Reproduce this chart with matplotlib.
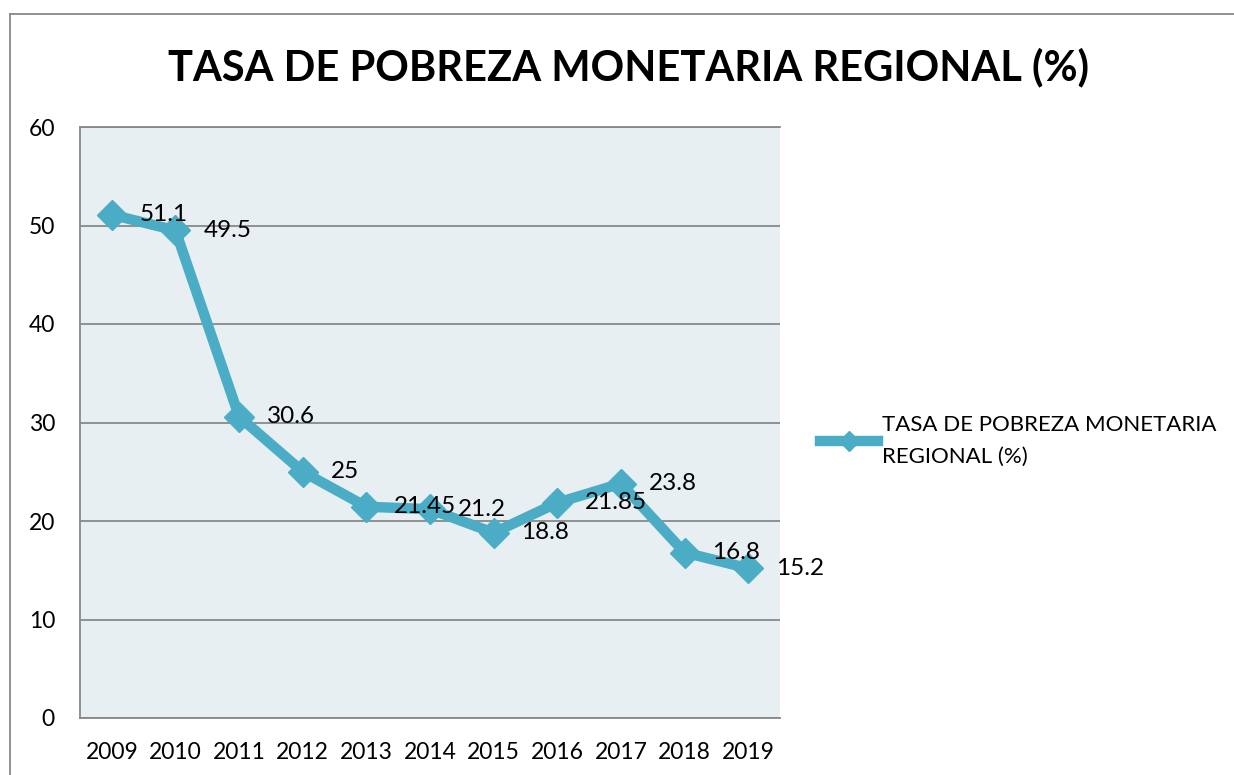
import matplotlib
matplotlib.use("Agg")
import matplotlib.pyplot as plt
from matplotlib.lines import Line2D

years = ["2009", "2010", "2011", "2012", "2013", "2014", "2015", "2016", "2017", "2018", "2019"]
pobreza = [51.1, 49.5, 30.6, 25, 21.45, 21.2, 18.8, 21.85, 23.8, 16.8, 15.2]
etiquetas = ["51.1", "49.5", "30.6", "25", "21.45", "21.2", "18.8", "21.85", "23.8", "16.8", "15.2"]
serie = "TASA DE POBREZA MONETARIA REGIONAL (%)"

plt.rcParams["font.family"] = ["Lato", "DejaVu Sans"]
color = "#4BACC6"

W, H = 1234, 775
fig = plt.figure(figsize=(W / 100, H / 100), dpi=100)
ax = fig.add_axes([80 / W, 1 - 718 / H, 700 / W, 591 / H])
ax.set_facecolor("#E8EFF3")

x = list(range(len(years)))
ax.plot(x, pobreza, color=color, lw=7.5, marker="D", ms=15, solid_joinstyle="miter",
        label=serie, zorder=3)
for xi, yi, t in zip(x, pobreza, etiquetas):
    ax.annotate(t, (xi, yi), xytext=(20, 0), textcoords="offset points",
                ha="left", va="center", fontsize=17.5, color="black", zorder=4)

ax.set_xlim(-0.5, 10.5)
ax.set_ylim(0, 60)
ax.set_yticks(range(0, 61, 10))
ax.set_xticks(x)
ax.set_xticklabels(years)
ax.tick_params(length=0, labelsize=16.5, colors="black")
ax.tick_params(axis="y", pad=18)
ax.tick_params(axis="x", pad=17)
ax.grid(axis="y", color="#888888", lw=1.3)
ax.set_axisbelow(True)
for s in ["left", "bottom", "top"]:
    ax.spines[s].set_color("#888888")
    ax.spines[s].set_linewidth(1.3)
ax.spines["right"].set_visible(False)

fig.text(628 / W, 1 - 67 / H, "TASA DE POBREZA MONETARIA REGIONAL (%)", ha="center",
         va="center", fontsize=30, fontweight="bold")

leg_line = Line2D([0], [0], color=color, lw=7.5, marker="D", ms=10)
leg = fig.legend([leg_line], ["TASA DE POBREZA MONETARIA\nREGIONAL (%)"], loc="upper left",
                 bbox_to_anchor=(820 / W, 1 - 415 / H), frameon=False,
                 prop={"size": 16, "family": ["Lato", "DejaVu Sans"]},
                 borderpad=0, borderaxespad=0,
                 handlelength=2.6, handletextpad=0.18)
for t in leg.get_texts():
    t.set_linespacing(1.75)

# marco exterior
fig.add_artist(Line2D([10.5 / W, 10.5 / W], [0, 1 - 14 / H], color="#888888", lw=1.3))
fig.add_artist(Line2D([10.5 / W, 1], [1 - 14 / H, 1 - 14 / H], color="#888888", lw=1.3))

fig.savefig("out.png", dpi=100)
